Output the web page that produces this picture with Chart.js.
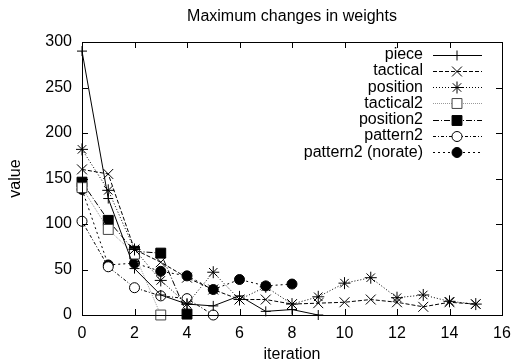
<!DOCTYPE html>
<html>
<head>
<meta charset="utf-8">
<script src="https://cdn.jsdelivr.net/npm/chart.js@4/dist/chart.umd.min.js"></script>
<style>
  html, body { margin: 0; padding: 0; background: #fff; }
  #wrap { width: 514px; height: 363px; }
</style>
</head>
<body>
<div id="wrap"><canvas id="chart" width="514" height="363"></canvas></div>
<script>
// values, index = iteration
const pieceVals = [290, 128, 51, 22, 12, 10, 21, 4, 6, 0];
const tacticalVals = [160, 155, 72, 58, 41, 28, 17, 17, 12, 13, 14, 17, 14, 9, 14, 12];
const positionVals = [182, 137, 72, 38, 12, 47, 17, 31, 12, 20, 35, 41, 19, 22, 15, 12];
const tactical2Vals = [140, 94, 67, 0];
const position2Vals = [146, 104, 70, 68, 1];
const pattern2Vals = [103, 53, 30, 21, 18, 0];
const norateVals = [138, 55, 57, 48, 43, 28, 39, 32, 34];

const xTicks = [0, 2, 4, 6, 8, 10, 12, 14, 16];
const yTicks = [0, 50, 100, 150, 200, 250, 300];

const FONT = '"Liberation Sans", Arial, sans-serif';

const toPoints = vals => vals.map((v, i) => ({ x: i, y: v }));

function series(label, vals, style) {
  return Object.assign({
    label,
    data: toPoints(vals),
    borderColor: '#000',
    backgroundColor: '#000',
    pointBorderColor: '#000',
    borderWidth: 1,
    pointBorderWidth: 1,
    tension: 0,
    clip: false
  }, style);
}

const datasets = [
  series('piece', pieceVals, { pointStyle: 'cross', pointRadius: 5, borderDash: [] }),
  series('tactical', tacticalVals, { pointStyle: 'crossRot', pointRadius: 7, borderDash: [4, 2] }),
  series('position', positionVals, { pointStyle: 'star', pointRadius: 6, borderDash: [1, 2] }),
  series('tactical2', tactical2Vals, { pointStyle: 'rect', pointRadius: 7, borderColor: '#9a9a9a',
    pointBackgroundColor: '#fff', pointBorderColor: '#444', borderDash: [1, 1] }),
  series('position2', position2Vals, { pointStyle: 'rect', pointRadius: 7, pointBackgroundColor: '#000',
    borderDash: [6, 2, 1, 2] }),
  series('pattern2', pattern2Vals, { pointStyle: 'circle', pointRadius: 5, pointBackgroundColor: '#fff',
    borderDash: [3, 2, 1, 2] }),
  series('pattern2 (norate)', norateVals, { pointStyle: 'circle', pointRadius: 5, pointBackgroundColor: '#000',
    borderDash: [2, 3] })
];

// gnuplot-like frame, inward ticks, title and legend
const framePlugin = {
  id: 'frame',
  afterDraw(chart) {
    const { ctx, chartArea: a, scales } = chart;
    ctx.save();
    ctx.strokeStyle = '#000';
    ctx.lineWidth = 1;
    ctx.setLineDash([]);
    ctx.strokeRect(Math.round(a.left) + 0.5, Math.round(a.top) + 0.5,
      Math.round(a.right - a.left), Math.round(a.bottom - a.top));
    const tl = 6;
    ctx.beginPath();
    xTicks.forEach(t => {
      const x = Math.round(scales.x.getPixelForValue(t)) + 0.5;
      ctx.moveTo(x, a.bottom); ctx.lineTo(x, a.bottom - tl);
      ctx.moveTo(x, a.top); ctx.lineTo(x, a.top + tl);
    });
    yTicks.forEach(t => {
      const y = Math.round(scales.y.getPixelForValue(t)) + 0.5;
      ctx.moveTo(a.left, y); ctx.lineTo(a.left + tl, y);
      ctx.moveTo(a.right, y); ctx.lineTo(a.right - tl, y);
    });
    ctx.stroke();

    // title
    ctx.fillStyle = '#000';
    ctx.font = '16px ' + FONT;
    ctx.textAlign = 'center';
    ctx.textBaseline = 'middle';
    ctx.fillText('Maximum changes in weights', (a.left + a.right) / 2, 17);

    // legend
    ctx.font = '16px ' + FONT;
    ctx.textAlign = 'right';
    chart.data.datasets.forEach((ds, i) => {
      const y = 54.5 + i * 16.3;
      ctx.fillStyle = '#000';
      ctx.fillText(ds.label, 423, y);
      ctx.beginPath();
      ctx.strokeStyle = ds.borderColor;
      ctx.setLineDash(ds.borderDash || []);
      ctx.moveTo(433, Math.round(y) + 0.5);
      ctx.lineTo(482, Math.round(y) + 0.5);
      ctx.stroke();
      ctx.setLineDash([]);
      ctx.strokeStyle = ds.pointBorderColor;
      ctx.fillStyle = ds.pointBackgroundColor || '#000';
      Chart.helpers.drawPoint(ctx, {
        pointStyle: ds.pointStyle, radius: ds.pointRadius, rotation: 0, borderWidth: 1
      }, 457, Math.round(y) + 0.5);
    });
    ctx.restore();
  }
};

new Chart(document.getElementById('chart'), {
  type: 'line',
  data: { datasets },
  plugins: [framePlugin],
  options: {
    responsive: false,
    animation: false,
    layout: { padding: { top: 42, right: 12, left: 0, bottom: 0 } },
    plugins: { legend: { display: false }, title: { display: false }, tooltip: { enabled: false } },
    scales: {
      x: {
        type: 'linear', min: 0, max: 16,
        afterFit: s => { s.height = 48; s.paddingLeft = 0; s.paddingRight = 0; },
        afterBuildTicks: s => { s.ticks = xTicks.map(v => ({ value: v })); },
        grid: { display: false, drawTicks: false },
        border: { display: false },
        ticks: { color: '#000', padding: 9, maxRotation: 0, font: { family: FONT, size: 16 } },
        title: { display: true, text: 'iteration', color: '#000', padding: { top: 0, bottom: 0 },
          font: { family: FONT, size: 16, lineHeight: 1 } }
      },
      y: {
        type: 'linear', min: 0, max: 300,
        afterFit: s => { s.width = 82; s.paddingTop = 0; s.paddingBottom = 0; },
        afterBuildTicks: s => { s.ticks = yTicks.map(v => ({ value: v })); },
        grid: { display: false, drawTicks: false },
        border: { display: false },
        ticks: { color: '#000', padding: 10, font: { family: FONT, size: 16 } },
        title: { display: true, text: 'value', color: '#000', padding: { top: 6, bottom: 0 },
          font: { family: FONT, size: 16, lineHeight: 1.2 } }
      }
    }
  }
});
</script>
</body>
</html>
